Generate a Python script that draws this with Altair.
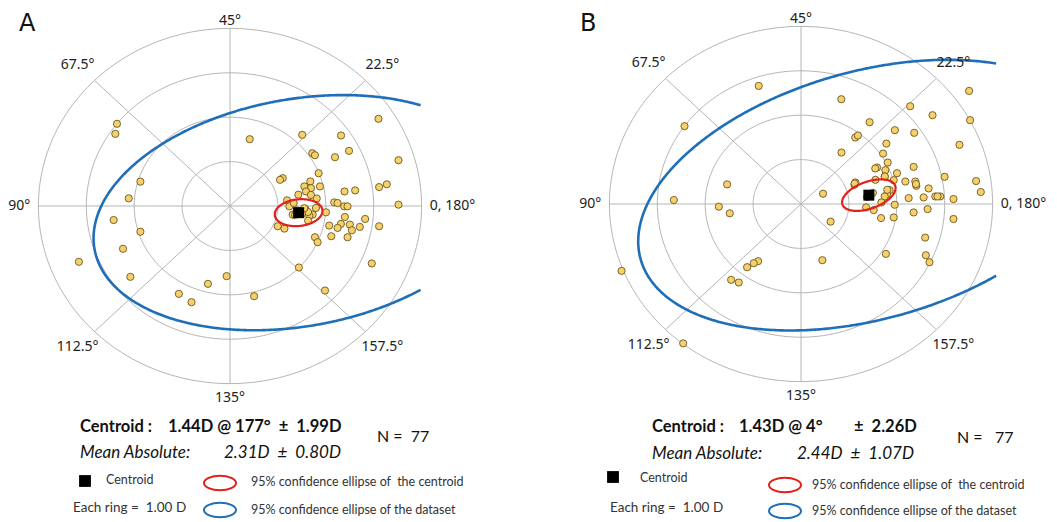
import numpy as np
import pandas as pd
import altair as alt

# ---------------- data (double-angle plot coordinates, dioptres) ----------------
a_x = [-2.360, -2.394, 0.412, 1.508, 2.318, 3.099, 3.518, 1.717, 1.773, 2.192, 2.485,
       -1.871, -2.115, -2.429, -1.871, -2.234, -3.155, -2.080, -1.068, -0.803, -0.461, -0.070,
       0.503, 1.438, 1.983, 2.960, 3.518, 3.274,
       1.101, 1.045, 1.850, 1.677, 1.552, 1.691, 1.878, 1.586, 1.427, 1.191, 2.391, 2.613,
       3.113, 2.176, 2.246, 2.384, 2.454, 2.003, 1.795, 1.573, 1.725, 1.656, 1.309, 1.240,
       2.398, 2.821, 2.072, 2.315, 2.246, 2.502, 2.544, 2.710, 3.113, 2.114, 2.454, 1.774,
       1.829, 0.997, 1.136,
       1.63, 1.81, 1.33, 1.63, 1.69, 1.40, 1.50, 1.36, 1.46, 1.55]
a_y = [1.851, 1.625, 1.505, 1.603, 1.588, 1.964, 1.031, 1.189, 1.144, 1.099, 1.242,
       0.549, 0.173, -0.316, -0.579, -0.963, -1.257, -1.595, -1.979, -2.167, -1.753, -1.580,
       -2.032, -1.385, -1.904, -1.294, 0.030, 0.489,
       0.627, 0.590, 0.739, 0.553, 0.441, 0.403, 0.441, 0.328, 0.254, 0.127, 0.328, 0.351,
       0.426, 0.082, 0.067, -0.008, -0.008, -0.142, -0.045, -0.068, -0.195, -0.217, -0.195, -0.008,
       -0.247, -0.292, -0.441, -0.404, -0.494, -0.419, -0.546, -0.471, -0.456, -0.681, -0.703, -0.703,
       -0.815, -0.456, -0.509,
       -0.33, 0.17, 0.07, -0.135, 0.25, -0.10, -0.18, -0.20, -0.12, -0.05]

b_x = [-0.883, 0.841, -2.432, 2.279, 2.745, 3.509, 3.530, 1.432, 1.133, 1.188, 1.960, 2.363,
       3.308, 3.655, 3.753, 3.183, 3.183, 2.592, 2.606, 2.682, 1.772, 0.445, 0.618, 0.459,
       -1.543, -2.655, -1.716, -1.487, -0.896, -0.987, -1.126, -1.459, -1.300, -3.746, -2.460,
       0.844, 1.782, 1.713, 1.588, 1.810, 1.761, 2.004, 1.747, 1.935, 2.178, 2.351, 2.386,
       2.407, 2.664, 2.997, 1.136, 1.115, 1.553, 1.851, 1.796, 1.747, 1.678, 1.956, 2.247,
       2.560, 2.803, 2.907, 1.358, 1.518, 1.671, 1.935, 2.351, 2.643,
       1.45, 1.38, 1.50, 1.80, 2.40, 1.75, 1.12, 2.85, 1.55]
b_y = [2.659, 2.360, 1.753, 2.202, 2.000, 2.547, 1.888, 1.843, 1.498, 1.543, 1.663, 1.603,
       1.333, 0.517, 0.270, 0.112, -0.337, -0.757, -1.154, -1.311, -1.124, -1.266, -0.397, 0.232,
       0.442, 0.090, -0.060, -0.210, -1.288, -1.333, -1.423, -1.708, -1.768, -1.506, -3.139,
       1.159, 1.361, 1.136, 0.822, 0.934, 0.762, 0.694, 0.619, 0.537, 0.507, 0.837, 0.507,
       0.410, 0.350, 0.612, 0.485, 0.432, 0.545, 0.312, 0.222, 0.170, 0.035, -0.017, 0.133,
       0.148, 0.170, 0.170, -0.077, -0.137, -0.317, -0.302, -0.190, -0.115,
       0.22, 0.16, 0.25, 0.32, 0.45, 0.62, 0.46, 0.17, 0.80]

# centroid: magnitude (D) and axis (deg)
cent_mag = [1.44, 1.43]
cent_axis = [177, 4]

# 95% ellipses: semi-axes (D) and tilt (deg, in double-angle space)
blue_a = [4.34, 4.98]
blue_b = [2.55, 2.77]
blue_t = [11.75, 17.9]
red_a = [0.50, 0.59]
red_b = [0.30, 0.30]
red_t = [7.0, 22.0]
clip_x = [4.0, 4.1]

ring_values = [1, 2, 3, 4]
spoke_angles = [0, 45, 90, 135]
axis_labels = ["0, 180°", "22.5°", "45°", "67.5°", "90°", "112.5°", "135°", "157.5°"]
axis_angles = [0, 22.5, 45, 67.5, 90, 112.5, 135, 157.5]

NB = "\u00a0"
stats_A = ["Centroid :", f"1.44D @ 177°{NB}{NB}±{NB}{NB}1.99D", f"N ={NB}{NB}77",
           "Mean Absolute:", f"2.31D{NB}{NB}±{NB}{NB}0.80D"]
stats_B = ["Centroid :", "1.43D @ 4°", f"±{NB}{NB}2.26D", f"N ={NB}{NB}{NB}77",
           "Mean Absolute:", f"2.44D{NB}{NB}±{NB}{NB}1.07D"]
legend_texts = ["Centroid", f"95% confidence ellipse of{NB}{NB}the centroid",
                f"Each ring ={NB}{NB}1.00 D", "95% confidence ellipse of the dataset"]

GRID = "#b5b5b5"
BLUE = "#1f6fb8"
RED = "#e3201b"
FILL = "#f6d06a"
EDGE = "#6b5820"
FONT = "Lato"
ELL_SHAPE = "M-1,0A1,0.45,0,1,0,1,0A1,0.45,0,1,0,-1,0Z"

dummy = pd.DataFrame({"v": [0]})


def ellipse_df(cx, cy, a, b, tdeg, clip):
    th = np.radians(tdeg)
    t0 = np.arctan2(-b * np.sin(th), a * np.cos(th))
    t = t0 + np.linspace(0, 2 * np.pi, 721)
    x = cx + a * np.cos(th) * np.cos(t) - b * np.sin(th) * np.sin(t)
    y = cy + a * np.sin(th) * np.cos(t) + b * np.cos(th) * np.sin(t)
    df = pd.DataFrame({"i": np.arange(len(t)), "x": x, "y": y})
    if clip is not None:
        df = df[df.x <= clip]
    return df


def txt(s, x, y, size=12, weight="normal", style="normal", align="left", color="#111",
        font=FONT, baseline="middle"):
    return alt.Chart(dummy).mark_text(
        text=s, align=align, baseline=baseline, fontSize=size, fontWeight=weight,
        fontStyle=style, color=color, font=font
    ).encode(x=alt.value(x), y=alt.value(y))


def panel(k, xs, ys, xdom, ydom, W, H, extra):
    sx = alt.Scale(domain=xdom, nice=False, zero=False)
    sy = alt.Scale(domain=ydom, nice=False, zero=False)
    X = lambda f: alt.X(f, type="quantitative", scale=sx, axis=None)
    Y = lambda f: alt.Y(f, type="quantitative", scale=sy, axis=None)

    # rings
    rows = []
    ang = np.linspace(0, 2 * np.pi, 241)
    for r in ring_values:
        for i, a in enumerate(ang):
            rows.append({"ring": r, "i": i, "x": r * np.cos(a), "y": r * np.sin(a)})
    rings = alt.Chart(pd.DataFrame(rows)).mark_line(color=GRID, strokeWidth=1).encode(
        x=X("x"), y=Y("y"), detail="ring:N", order="i:Q")

    R = max(ring_values)
    sp = pd.DataFrame({
        "x": [R * np.cos(np.radians(a)) for a in spoke_angles],
        "y": [R * np.sin(np.radians(a)) for a in spoke_angles],
        "x2": [-R * np.cos(np.radians(a)) for a in spoke_angles],
        "y2": [-R * np.sin(np.radians(a)) for a in spoke_angles],
    })
    spokes = alt.Chart(sp).mark_rule(color=GRID, strokeWidth=1).encode(
        x=X("x"), y=Y("y"), x2="x2:Q", y2="y2:Q")

    phi = np.radians(2 * cent_axis[k])
    cx, cy = cent_mag[k] * np.cos(phi), cent_mag[k] * np.sin(phi)

    blue = alt.Chart(ellipse_df(cx, cy, blue_a[k], blue_b[k], blue_t[k], clip_x[k])).mark_line(
        color=BLUE, strokeWidth=2.6).encode(x=X("x"), y=Y("y"), order="i:Q")
    red = alt.Chart(ellipse_df(cx, cy, red_a[k], red_b[k], red_t[k], None)).mark_line(
        color=RED, strokeWidth=2.2).encode(x=X("x"), y=Y("y"), order="i:Q")

    pts = alt.Chart(pd.DataFrame({"x": xs, "y": ys})).mark_point(
        shape="circle", filled=True, fill=FILL, stroke=EDGE, strokeWidth=0.9,
        size=52, opacity=1).encode(x=X("x"), y=Y("y"))

    cen = alt.Chart(pd.DataFrame({"x": [cx], "y": [cy]})).mark_square(
        color="black", size=120, opacity=1).encode(x=X("x"), y=Y("y"))

    # angle labels
    lab = []
    for s, a in zip(axis_labels, axis_angles):
        p = np.radians(2 * a)
        diag = abs(np.cos(p)) > 0.3 and abs(np.sin(p)) > 0.3
        if diag:
            r = 4.5
        elif abs(np.cos(p)) > 0.5:
            r = 4.17
        else:
            r = 4.17 if np.sin(p) > 0 else 4.33
        lab.append({"t": s, "x": r * np.cos(p), "y": r * np.sin(p),
                    "g": "l" if (not diag and np.cos(p) > 0.5) else ("r" if (not diag and np.cos(p) < -0.5) else "c")})
    lab = pd.DataFrame(lab)
    lab_layers = []
    for g, al in [("l", "left"), ("r", "right"), ("c", "center")]:
        lab_layers.append(alt.Chart(lab[lab.g == g]).mark_text(
            align=al, baseline="middle", fontSize=14, font="Noto Sans", color="#222").encode(
            x=X("x"), y=Y("y"), text="t:N"))

    return alt.layer(rings, spokes, blue, pts, red, cen, *lab_layers, *extra).properties(
        width=W, height=H)


def legend_marks(sq, red_pos, blue_pos):
    sqm = alt.Chart(dummy).mark_square(color="black", size=140, opacity=1).encode(
        x=alt.value(sq[0]), y=alt.value(sq[1]))
    rm = alt.Chart(dummy).mark_point(shape=ELL_SHAPE, filled=False, size=1024, stroke=RED,
                                     strokeWidth=2, opacity=1).encode(
        x=alt.value(red_pos[0]), y=alt.value(red_pos[1]))
    bm = alt.Chart(dummy).mark_point(shape=ELL_SHAPE, filled=False, size=1024, stroke=BLUE,
                                     strokeWidth=2, opacity=1).encode(
        x=alt.value(blue_pos[0]), y=alt.value(blue_pos[1]))
    return [sqm, rm, bm]


BOLD = 16.5
ITAL = 17
SMALL = 12.5
RING = 13.5
H = 504
extraA = [
    txt("A", 11, 4, size=24, font="DejaVu Sans", color="#111", baseline="top"),
    txt(stats_A[0], 72, 419, size=BOLD, weight="bold"),
    txt(stats_A[1], 160, 419, size=BOLD, weight="bold"),
    txt(stats_A[2], 369, 429, size=16),
    txt(stats_A[3], 72, 445, size=ITAL, style="italic"),
    txt(stats_A[4], 216, 445, size=ITAL, style="italic"),
    txt(legend_texts[0], 98, 472, size=SMALL, color="#333"),
    txt(legend_texts[1], 243, 474, size=SMALL, color="#333"),
    txt(legend_texts[2], 65, 500, size=RING, color="#333"),
    txt(legend_texts[3], 243, 502, size=SMALL, color="#333"),
] + legend_marks((77, 473), (212, 475), (212, 502))

extraB = [
    txt("B", 48, 4, size=24, font="DejaVu Sans", color="#111", baseline="top"),
    txt(stats_B[0], 120, 419, size=BOLD, weight="bold"),
    txt(stats_B[1], 207, 419, size=BOLD, weight="bold"),
    txt(stats_B[2], 322, 419, size=BOLD, weight="bold"),
    txt(stats_B[3], 425, 430, size=16),
    txt(stats_B[4], 120, 446, size=ITAL, style="italic"),
    txt(stats_B[5], 265, 446, size=ITAL, style="italic"),
    txt(legend_texts[0], 108, 470, size=SMALL, color="#333"),
    txt(legend_texts[1], 280, 477, size=SMALL, color="#333"),
    txt(legend_texts[2], 78, 500, size=RING, color="#333"),
    txt(legend_texts[3], 280, 503, size=SMALL, color="#333"),
] + legend_marks((81, 469), (253, 477), (253, 503))

pA = panel(0, a_x, a_y, [-4.635, 6.305], [-(H - 198) / 44.4, 198 / 44.4], 524, H, extraA)
pB = panel(1, b_x, b_y, [-5.616, 5.177], [-(H - 196) / 44.4, 196 / 44.4], 517, H, extraB)

chart = alt.hconcat(pA, pB, spacing=0, bounds="flush").properties(
    padding=0, background="white").configure_view(stroke=None)

chart.save("out.html", embed_options={"renderer": "svg", "actions": False})
